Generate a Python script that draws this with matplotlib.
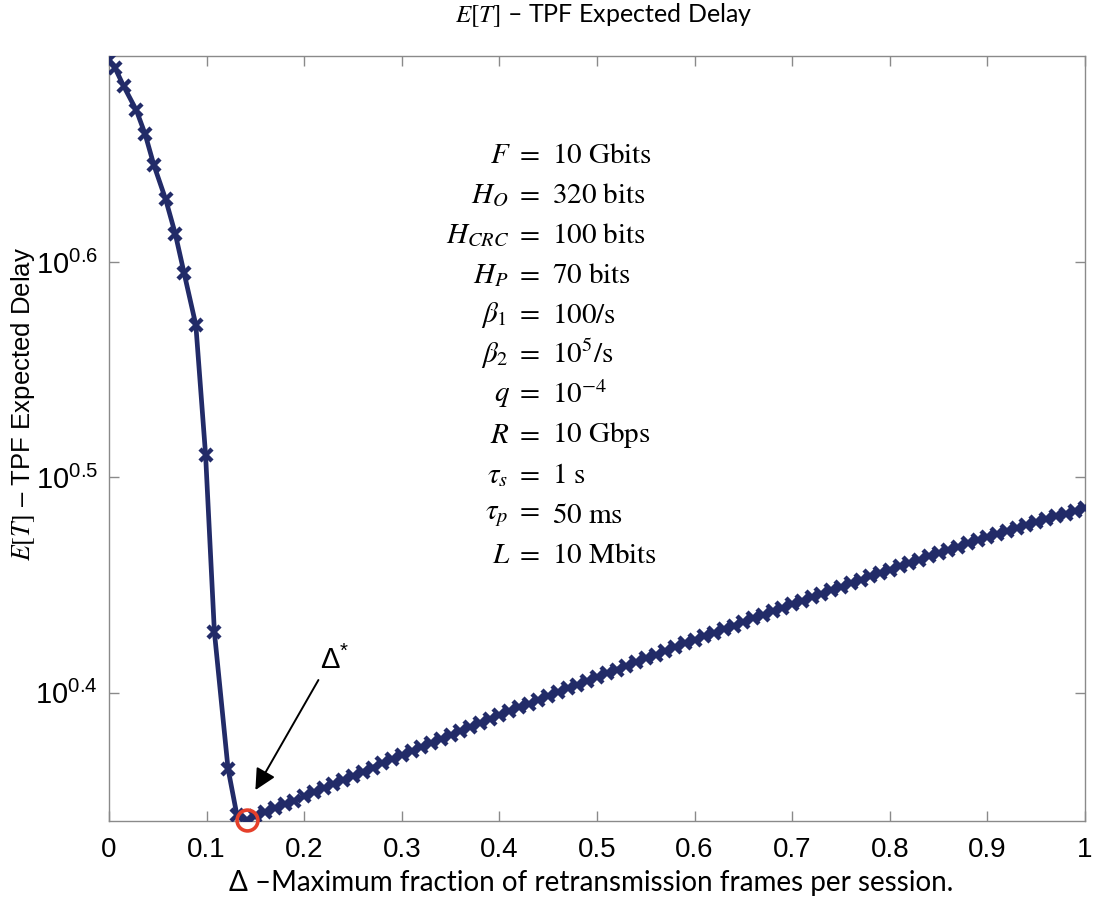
import matplotlib
matplotlib.use("Agg")
import matplotlib.pyplot as plt

plt.rcParams["mathtext.fontset"] = "stix"
plt.rcParams["font.family"] = ["Liberation Sans", "DejaVu Sans"]

# Steep branch: Delta below the optimum
delta_left = [0.0, 0.006, 0.015, 0.028, 0.037, 0.046, 0.058, 0.068, 0.077,
              0.089, 0.099, 0.108, 0.122, 0.131, 0.141]
delay_left = [4.940, 4.901, 4.805, 4.683, 4.565, 4.416, 4.258, 4.102, 3.934,
              3.722, 3.239, 2.681, 2.316, 2.205, 2.193]

# Slow rise: Delta above the optimum
delta_right = [0.15, 0.16, 0.17, 0.18, 0.19, 0.20,
               0.21, 0.22, 0.23, 0.24, 0.25, 0.26, 0.27, 0.28, 0.29, 0.30,
               0.31, 0.32, 0.33, 0.34, 0.35, 0.36, 0.37, 0.38, 0.39, 0.40,
               0.41, 0.42, 0.43, 0.44, 0.45, 0.46, 0.47, 0.48, 0.49, 0.50,
               0.51, 0.52, 0.53, 0.54, 0.55, 0.56, 0.57, 0.58, 0.59, 0.60,
               0.61, 0.62, 0.63, 0.64, 0.65, 0.66, 0.67, 0.68, 0.69, 0.70,
               0.71, 0.72, 0.73, 0.74, 0.75, 0.76, 0.77, 0.78, 0.79, 0.80,
               0.81, 0.82, 0.83, 0.84, 0.85, 0.86, 0.87, 0.88, 0.89, 0.90,
               0.91, 0.92, 0.93, 0.94, 0.95, 0.96, 0.97, 0.98, 0.99, 1.00]
delay_right = [2.2015, 2.2106, 2.2198, 2.2295, 2.2387, 2.2485,
               2.2584, 2.2683, 2.2788, 2.2887, 2.2988, 2.3089, 2.3190, 2.3297, 2.3399, 2.3502,
               2.3604, 2.3702, 2.3806, 2.3905, 2.4010, 2.4110, 2.4215, 2.4316, 2.4423, 2.4524,
               2.4626, 2.4729, 2.4826, 2.4928, 2.5032, 2.5136, 2.5241, 2.5340, 2.5445, 2.5551,
               2.5651, 2.5751, 2.5858, 2.5960, 2.6062, 2.6164, 2.6266, 2.6376, 2.6479, 2.6583,
               2.6687, 2.6786, 2.6891, 2.6990, 2.7095, 2.7202, 2.7302, 2.7409, 2.7510, 2.7618,
               2.7720, 2.7822, 2.7925, 2.8028, 2.8132, 2.8236, 2.8340, 2.8445, 2.8550, 2.8655,
               2.8754, 2.8853, 2.8960, 2.9060, 2.9160, 2.9261, 2.9363, 2.9471, 2.9573, 2.9675,
               2.9771, 2.9861, 2.9957, 3.0047, 3.0144, 3.0235, 3.0332, 3.0423, 3.0522, 3.0613]

delta_opt = 0.141
delay_opt = 2.193

x_ticks = [0, 0.1, 0.2, 0.3, 0.4, 0.5, 0.6, 0.7, 0.8, 0.9, 1]
x_ticklabels = ["0", "0.1", "0.2", "0.3", "0.4", "0.5", "0.6", "0.7", "0.8", "0.9", "1"]
y_exponents = [0.4, 0.5, 0.6]

param_names = [r"$F$", r"$H_O$", r"$H_{CRC}$", r"$H_P$", r"$\beta_1$", r"$\beta_2$",
               r"$q$", r"$R$", r"$\tau_s$", r"$\tau_p$", r"$L$"]
param_values = [r"$10\ \mathrm{Gbits}$", r"$320\ \mathrm{bits}$", r"$100\ \mathrm{bits}$",
                r"$70\ \mathrm{bits}$", r"$100/\mathrm{s}$", r"$10^5/\mathrm{s}$",
                r"$10^{-4}$", r"$10\ \mathrm{Gbps}$", r"$1\ \mathrm{s}$",
                r"$50\ \mathrm{ms}$", r"$10\ \mathrm{Mbits}$"]

navy = "#222b68"

fig = plt.figure(figsize=(10.94, 9.07), dpi=100)
ax = fig.add_axes([0.0996, 0.0952, 0.8922, 0.8431])

ax.plot(delta_left + delta_right, delay_left + delay_right, color=navy, lw=3.4,
        marker="x", ms=8, mew=3.2, zorder=3)
ax.plot([delta_opt], [delay_opt], marker="o", ms=15, mfc="none", mec="#e5402b",
        mew=2.6, clip_on=False, zorder=4)

ax.set_yscale("log")
ax.set_xlim(0, 1)
ax.set_ylim(2.191, 4.962)
ax.set_xticks(x_ticks)
ax.set_xticklabels(x_ticklabels)
ax.set_yticks([10 ** e for e in y_exponents])
ax.set_yticklabels([r"$\mathregular{10^{%.1f}}$" % e for e in y_exponents])
ax.yaxis.set_minor_locator(matplotlib.ticker.NullLocator())

ax.tick_params(axis="both", which="major", direction="in", length=7, width=1,
               color="#8a8a8a", top=True, right=True)
ax.tick_params(axis="x", pad=12, labelsize=20)
ax.tick_params(axis="y", pad=8, labelsize=21)
for s in ax.spines.values():
    s.set_color("#8a8a8a")
    s.set_linewidth(1)

# parameter list, aligned on the equals signs
y0 = 0.829
step = 0.0441
for i, (n, v) in enumerate(zip(param_names, param_values)):
    yy = y0 - i * step
    fig.text(0.4935, yy, n + r"$\ =$", ha="right", va="center", fontsize=21)
    fig.text(0.5045, yy, v, ha="left", va="center", fontsize=21)

ax.annotate("", xy=(0.1486, 2.258), xytext=(0.216, 2.553),
            arrowprops=dict(arrowstyle="-|>", color="black", lw=1.4,
                            mutation_scale=32))
ax.text(0.231, 2.60, r"$\mathregular{\Delta^{*}}$", ha="center", va="center",
        fontsize=21)

fig.text(0.552, 0.983, r"$E[T]$ – TPF Expected Delay", ha="center", va="center",
         fontsize=18, family=["Lato", "DejaVu Sans"])
fig.text(0.021, 0.555, r"$E[T]$ – TPF Expected Delay", ha="center", va="center",
         rotation=90, fontsize=18.5)
fig.text(0.540, 0.026, "Δ –Maximum fraction of retransmission frames per session.",
         ha="center", va="center", fontsize=20, family=["Lato", "DejaVu Sans"])

fig.savefig("out.png", dpi=100)
